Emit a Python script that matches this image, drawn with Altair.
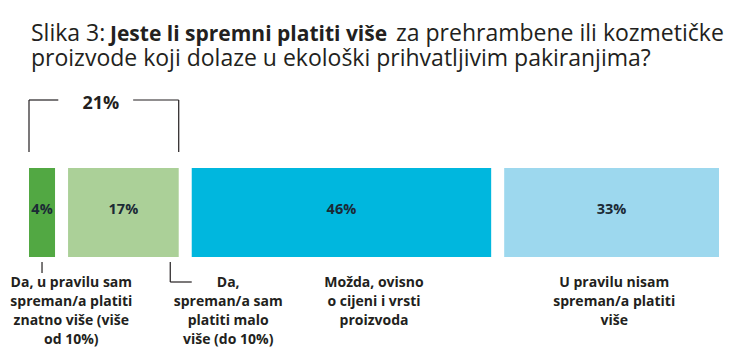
import altair as alt
import pandas as pd

# ---- data ----
labels = [
    "Da, u pravilu sam\nspreman/a platiti\nznatno više (više\nod 10%)",
    "Da,\nspreman/a sam\nplatiti malo\nviše (do 10%)",
    "Možda, ovisno\no cijeni i vrsti\nproizvoda",
    "U pravilu nisam\nspreman/a platiti\nviše",
]
values = [4, 17, 46, 33]
colors = ["#52a843", "#abd098", "#00b7de", "#9dd8ee"]

title_regular_1 = "Slika 3:"
title_bold_1 = "Jeste li spremni platiti više"
title_regular_2 = "za prehrambene ili kozmetičke"
title_line_2 = "proizvode koji dolaze u ekološki prihvatljivim pakiranjima?"

# ---- layout ----
GAP = 2.0                       # gap between bars, in percentage units
label_anchor = [6.5, 30.6, 53.0, 89.9]   # label centres, percentage units
INK = "#231f20"
FONT = "Open Sans"

starts, acc = [], 0.0
for i, v in enumerate(values):
    starts.append(acc + i * GAP)
    acc += v
ends = [s + v for s, v in zip(starts, values)]
mids = [(s + e) / 2 for s, e in zip(starts, ends)]

df = pd.DataFrame({
    "label": labels,
    "value": values,
    "start": starts,
    "end": ends,
    "mid": mids,
    "pct": [f"{v}%" for v in values],
    "lx": label_anchor,
})

xs = alt.Scale(domain=[0, sum(values) + 3 * GAP], range=[21, 711])
X = lambda f: alt.X(f, type="quantitative", scale=xs, axis=None)

bars = alt.Chart(df).mark_rect().encode(
    x=X("start"), x2="end",
    y=alt.value(160), y2=alt.value(249),
    color=alt.Color("label:N", scale=alt.Scale(domain=labels, range=colors), legend=None),
)

pct = alt.Chart(df).mark_text(
    font=FONT, fontSize=14.5, fontWeight="bold", color="#1b2a35", baseline="middle", align="center"
).encode(x=X("mid"), y=alt.value(202), text="pct:N")

cat_labels = alt.Chart(df).mark_text(
    font=FONT, fontSize=14, fontWeight="bold", color=INK, align="center",
    baseline="alphabetic", lineBreak="\n", lineHeight=19
).encode(x=X("lx"), y=alt.value(279), text="label:N")

# bracket over the first two bars
b0, b1 = starts[0], ends[1]
bmid = (b0 + b1) / 2
brk_h = pd.DataFrame({"a": [b0, b1 - 7.0], "b": [b0 + 4.5, b1]})
brk_v = pd.DataFrame({"a": [b0, b1]})
bracket_h = alt.Chart(brk_h).mark_rule(color=INK, strokeWidth=1.2).encode(
    x=X("a"), x2="b", y=alt.value(92))
bracket_v = alt.Chart(brk_v).mark_rule(color=INK, strokeWidth=1.2).encode(
    x=X("a"), y=alt.value(92), y2=alt.value(144))
bracket_txt = alt.Chart(pd.DataFrame({"x": [bmid], "t": [f"{values[0] + values[1]}%"]})).mark_text(
    font=FONT, fontSize=18, fontWeight="bold", color=INK, baseline="middle", align="center", dx=-3
).encode(x=X("x"), y=alt.value(96), text="t:N")

# connectors under bars
c1 = alt.Chart(pd.DataFrame({"a": [mids[0]]})).mark_rule(color=INK, strokeWidth=1.2).encode(
    x=X("a"), y=alt.value(254), y2=alt.value(265))
c2v = alt.Chart(pd.DataFrame({"a": [ends[1] - 1.3]})).mark_rule(color=INK, strokeWidth=1.2).encode(
    x=X("a"), y=alt.value(254), y2=alt.value(274))
c2h = alt.Chart(pd.DataFrame({"a": [ends[1] - 1.3], "b": [starts[2]]})).mark_rule(color=INK, strokeWidth=1.2).encode(
    x=X("a"), x2="b", y=alt.value(274))

# title (mixed weight)
def ttl(text, x, y, weight, size):
    return alt.Chart(pd.DataFrame({"t": [text]})).mark_text(
        font=FONT, fontSize=size, fontWeight=weight, color=INK, align="left", baseline="alphabetic"
    ).encode(x=alt.value(x), y=alt.value(y), text="t:N")

t1 = ttl(title_regular_1, 23, 33, "normal", 23)
t2 = ttl(title_bold_1, 102, 33, "bold", 21)
t3 = ttl(title_regular_2, 388, 33, "normal", 23)
t4 = ttl(title_line_2, 23, 58, "normal", 23)

chart = alt.layer(
    bars, pct, cat_labels, bracket_h, bracket_v, bracket_txt, c1, c2v, c2h, t1, t2, t3, t4
).properties(
    width=731, height=340, padding=0, autosize=alt.AutoSizeParams(type="none"), background="white"
).configure_view(stroke=None)

chart.save("out.html", embed_options={"renderer": "svg", "actions": False})
